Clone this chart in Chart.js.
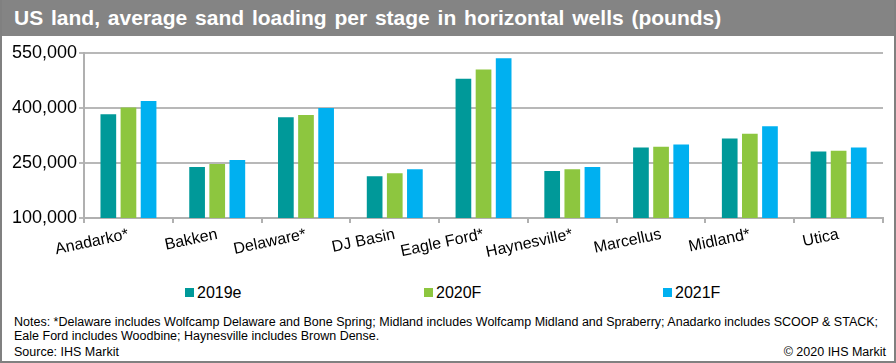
<!DOCTYPE html>
<html>
<head>
<meta charset="utf-8">
<script src="https://cdn.jsdelivr.net/npm/chart.js@4.4.0/dist/chart.umd.min.js"></script>
<style>
  html, body { margin: 0; padding: 0; background: #fff; }
  #frame {
    position: relative; width: 896px; height: 363px; box-sizing: border-box;
    border: 2px solid #808080; border-top: none; overflow: hidden;
    font-family: "Liberation Sans", Arial, sans-serif;
  }
  #titleBar {
    position: absolute; left: -2px; top: 0; width: 896px; height: 36px;
    background: #848484; color: #fff; font-weight: bold; font-size: 21px;
    line-height: 36px; padding-left: 14px; box-sizing: border-box; word-spacing: 2px;
  }
  #chartBox { position: absolute; left: 0; top: 36px; width: 892px; height: 228px; }
  .legItem { position: absolute; top: 284px; font-size: 16px; line-height: 18px; white-space: nowrap; }
  .legItem span { display: inline-block; width: 9px; height: 9px; margin-right: 3px; vertical-align: 1px; }
  .note { position: absolute; left: 12px; font-size: 12.5px; color: #000; white-space: nowrap; }
  #copy { position: absolute; right: 8px; top: 345px; font-size: 12.5px; }
</style>
</head>
<body>
<div id="frame">
  <div id="titleBar">US land, average sand loading per stage in horizontal wells (pounds)</div>
  <div id="chartBox"><canvas id="sandChart"></canvas></div>
  <div id="legend"></div>
  <div class="note" style="top:315px">Notes: *Delaware includes Wolfcamp Delaware and Bone Spring; Midland includes Wolfcamp Midland and Spraberry; Anadarko includes SCOOP &amp; STACK;</div>
  <div class="note" style="top:329px">Eale Ford includes Woodbine; Haynesville includes Brown Dense.</div>
  <div class="note" style="top:345px">Source: IHS Markit</div>
  <div id="copy">© 2020 IHS Markit</div>
</div>
<script>
// data (pounds per stage)
const basins = ['Anadarko*', 'Bakken', 'Delaware*', 'DJ Basin', 'Eagle Ford*', 'Haynesville*', 'Marcellus', 'Midland*', 'Utica'];
const sand2019e = [383000, 239000, 375000, 214000, 480000, 228000, 292000, 317000, 281000];
const sand2020F = [401000, 247000, 381000, 222000, 505000, 233000, 294000, 330000, 283000];
const sand2021F = [419000, 258000, 400000, 233000, 536000, 239000, 300000, 350000, 292000];
const yTicks = [100000, 250000, 400000, 550000];

const font = 'Liberation Sans, Arial, sans-serif';

const chart = new Chart(document.getElementById('sandChart'), {
  type: 'bar',
  data: {
    labels: basins,
    datasets: [
      { label: '2019e', data: sand2019e, backgroundColor: '#009999' },
      { label: '2020F', data: sand2020F, backgroundColor: '#8DC63F' },
      { label: '2021F', data: sand2021F, backgroundColor: '#00B0F0' }
    ]
  },
  options: {
    responsive: true,
    maintainAspectRatio: false,
    animation: false,
    datasets: { bar: { barPercentage: 0.78, categoryPercentage: 0.68 } },
    layout: { padding: { top: 17, left: 8, right: 11, bottom: 0 } },
    plugins: {
      legend: { display: false },
      tooltip: { enabled: false }
    },
    scales: {
      x: {
        grid: { drawOnChartArea: false, color: '#b0b0b0', lineWidth: 2, tickLength: 5 },
        border: { color: '#b0b0b0', width: 2 },
        ticks: { color: '#000', autoSkip: false, minRotation: 12, maxRotation: 12, padding: 2, font: { family: font, size: 16 } }
      },
      y: {
        min: 100000, max: 550000,
        afterBuildTicks: axis => { axis.ticks = yTicks.map(v => ({ value: v })); },
        grid: { color: '#b8b8b8', lineWidth: 2, tickLength: 5 },
        border: { color: '#b0b0b0', width: 2 },
        ticks: {
          color: '#000', padding: 2, font: { family: font, size: 18 },
          callback: v => Number(v).toLocaleString('en-US')
        }
      }
    }
  }
});

// legend spread out like the original, built from the datasets
const legendX = [183, 422, 661];
const legendEl = document.getElementById('legend');
chart.data.datasets.forEach((ds, i) => {
  const item = document.createElement('div');
  item.className = 'legItem';
  item.style.left = legendX[i] + 'px';
  item.innerHTML = `<span style="background:${ds.backgroundColor}"></span>${ds.label}`;
  legendEl.appendChild(item);
});
</script>
</body>
</html>
